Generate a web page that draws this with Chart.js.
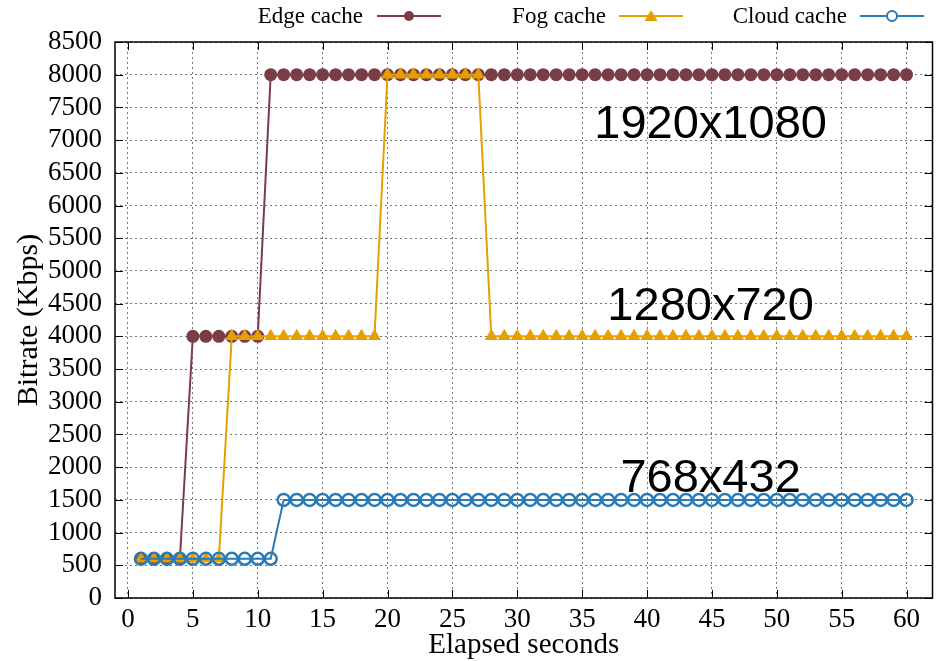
<!DOCTYPE html>
<html>
<head>
<meta charset="utf-8">
<title>Bitrate by cache location</title>
<script src="https://cdn.jsdelivr.net/npm/chart.js@4/dist/chart.umd.min.js"></script>
<style>
  html, body { margin: 0; padding: 0; background: #fff; }
  #wrap { width: 941px; height: 661px; }
</style>
</head>
<body>
<div id="wrap"><canvas id="chart" width="941" height="661"></canvas></div>
<script>
const seconds = [1, 2, 3, 4, 5, 6, 7, 8, 9, 10,
    11, 12, 13, 14, 15, 16, 17, 18, 19, 20,
    21, 22, 23, 24, 25, 26, 27, 28, 29, 30,
    31, 32, 33, 34, 35, 36, 37, 38, 39, 40,
    41, 42, 43, 44, 45, 46, 47, 48, 49, 50,
    51, 52, 53, 54, 55, 56, 57, 58, 59, 60];

const edgeCache = [600, 600, 600, 600, 4000, 4000, 4000, 4000, 4000, 4000,
    8000, 8000, 8000, 8000, 8000, 8000, 8000, 8000, 8000, 8000,
    8000, 8000, 8000, 8000, 8000, 8000, 8000, 8000, 8000, 8000,
    8000, 8000, 8000, 8000, 8000, 8000, 8000, 8000, 8000, 8000,
    8000, 8000, 8000, 8000, 8000, 8000, 8000, 8000, 8000, 8000,
    8000, 8000, 8000, 8000, 8000, 8000, 8000, 8000, 8000, 8000];

const fogCache = [600, 600, 600, 600, 600, 600, 600, 4000, 4000, 4000,
    4000, 4000, 4000, 4000, 4000, 4000, 4000, 4000, 4000, 8000,
    8000, 8000, 8000, 8000, 8000, 8000, 8000, 4000, 4000, 4000,
    4000, 4000, 4000, 4000, 4000, 4000, 4000, 4000, 4000, 4000,
    4000, 4000, 4000, 4000, 4000, 4000, 4000, 4000, 4000, 4000,
    4000, 4000, 4000, 4000, 4000, 4000, 4000, 4000, 4000, 4000];

const cloudCache = [600, 600, 600, 600, 600, 600, 600, 600, 600, 600,
    600, 1500, 1500, 1500, 1500, 1500, 1500, 1500, 1500, 1500,
    1500, 1500, 1500, 1500, 1500, 1500, 1500, 1500, 1500, 1500,
    1500, 1500, 1500, 1500, 1500, 1500, 1500, 1500, 1500, 1500,
    1500, 1500, 1500, 1500, 1500, 1500, 1500, 1500, 1500, 1500,
    1500, 1500, 1500, 1500, 1500, 1500, 1500, 1500, 1500, 1500];

const xTicks = [0, 5, 10, 15, 20, 25, 30, 35, 40, 45, 50, 55, 60];
const yTicks = [0, 500, 1000, 1500, 2000, 2500, 3000, 3500, 4000,
    4500, 5000, 5500, 6000, 6500, 7000, 7500, 8000, 8500];

// resolution labels, placed in data units
const resolutions = [
    { text: '1920x1080', x: 44.9, y: 7030 },
    { text: '1280x720', x: 44.9, y: 4250 },
    { text: '768x432', x: 44.9, y: 1620 }
];

const EDGE = '#7a3d45';
const FOG = '#e69f00';
const CLOUD = '#2a7ab6';
const serif = '"Liberation Serif", "Times New Roman", serif';

const toPoints = values => seconds.map((s, i) => ({ x: s, y: values[i] }));

// frame, inward ticks, legend and resolution labels
const decorations = {
    id: 'decorations',
    afterDatasetsDraw(chart) {
        const { ctx, chartArea: a, scales: { x, y } } = chart;
        ctx.save();

        ctx.fillStyle = '#000';
        ctx.font = '47px "Liberation Sans", Arial, sans-serif';
        ctx.textAlign = 'center';
        ctx.textBaseline = 'alphabetic';
        resolutions.forEach(r => {
            ctx.fillText(r.text, x.getPixelForValue(r.x), y.getPixelForValue(r.y));
        });

        ctx.strokeStyle = '#000';
        ctx.lineWidth = 1;
        ctx.beginPath();
        xTicks.forEach(v => {
            const px = Math.round(x.getPixelForValue(v)) + 0.5;
            ctx.moveTo(px, a.bottom); ctx.lineTo(px, a.bottom - 8);
            ctx.moveTo(px, a.top); ctx.lineTo(px, a.top + 8);
        });
        yTicks.forEach(v => {
            const py = Math.round(y.getPixelForValue(v)) + 0.5;
            ctx.moveTo(a.left, py); ctx.lineTo(a.left + 8, py);
            ctx.moveTo(a.right, py); ctx.lineTo(a.right - 8, py);
        });
        ctx.stroke();

        ctx.lineWidth = 1.5;
        ctx.strokeRect(a.left, a.top, a.right - a.left, a.bottom - a.top);

        // legend: label text, then a line sample with its marker
        const ly = 16;
        const items = [
            { label: 'Edge cache', color: EDGE, textRight: 363, x0: 377, x1: 441, shape: 'dot' },
            { label: 'Fog cache', color: FOG, textRight: 606, x0: 619, x1: 683, shape: 'tri' },
            { label: 'Cloud cache', color: CLOUD, textRight: 847, x0: 860, x1: 924, shape: 'ring' }
        ];
        ctx.font = '23px ' + serif;
        ctx.textAlign = 'right';
        ctx.textBaseline = 'middle';
        items.forEach(it => {
            ctx.fillStyle = '#000';
            ctx.fillText(it.label, it.textRight, ly + 1);
            ctx.strokeStyle = it.color;
            ctx.lineWidth = 2;
            ctx.beginPath();
            ctx.moveTo(it.x0, ly); ctx.lineTo(it.x1, ly);
            ctx.stroke();
            const cx = (it.x0 + it.x1) / 2;
            ctx.fillStyle = it.color;
            ctx.beginPath();
            if (it.shape === 'dot') {
                ctx.arc(cx, ly, 5, 0, Math.PI * 2);
                ctx.fill();
            } else if (it.shape === 'tri') {
                ctx.moveTo(cx, ly - 6); ctx.lineTo(cx + 6.5, ly + 5); ctx.lineTo(cx - 6.5, ly + 5);
                ctx.closePath();
                ctx.fill();
            } else {
                ctx.arc(cx, ly, 5, 0, Math.PI * 2);
                ctx.fillStyle = '#fff';
                ctx.fill();
                ctx.stroke();
            }
        });

        ctx.restore();
    }
};

new Chart(document.getElementById('chart'), {
    type: 'line',
    data: {
        datasets: [
            {
                label: 'Edge cache',
                data: toPoints(edgeCache),
                borderColor: EDGE,
                backgroundColor: EDGE,
                borderWidth: 2,
                pointStyle: 'circle',
                pointRadius: 6.5,
                pointBorderWidth: 0,
                order: 3
            },
            {
                label: 'Fog cache',
                data: toPoints(fogCache),
                borderColor: FOG,
                backgroundColor: FOG,
                borderWidth: 2,
                pointStyle: 'triangle',
                pointRadius: 7.5,
                pointBorderWidth: 0,
                order: 2
            },
            {
                label: 'Cloud cache',
                data: toPoints(cloudCache),
                borderColor: CLOUD,
                backgroundColor: 'rgba(255,255,255,0)',
                borderWidth: 2,
                pointStyle: 'circle',
                pointRadius: 6,
                pointBorderWidth: 2.5,
                order: 1
            }
        ]
    },
    options: {
        responsive: false,
        animation: false,
        events: [],
        layout: { padding: { top: 42, right: 2, left: 0, bottom: 0 } },
        plugins: {
            legend: { display: false },
            tooltip: { enabled: false }
        },
        elements: { line: { tension: 0 } },
        scales: {
            x: {
                type: 'linear',
                min: -1,
                max: 62,
                afterBuildTicks: scale => { scale.ticks = xTicks.map(v => ({ value: v })); },
                afterFit: scale => { scale.height = 63; },
                grid: { color: '#777', lineWidth: 1, drawTicks: false },
                border: { display: false, dash: [2, 3] },
                ticks: {
                    color: '#000', padding: 6, maxRotation: 0, autoSkip: false,
                    callback: v => String(v),
                    font: { family: serif, size: 27 }
                },
                title: {
                    display: true,
                    text: 'Elapsed seconds',
                    color: '#000',
                    padding: 0,
                    font: { family: serif, size: 29, lineHeight: 1.05 }
                }
            },
            y: {
                type: 'linear',
                min: 0,
                max: 8500,
                afterBuildTicks: scale => { scale.ticks = yTicks.map(v => ({ value: v })); },
                afterFit: scale => { scale.width = 115; },
                grid: { color: '#777', lineWidth: 1, drawTicks: false },
                border: { display: false, dash: [2, 3] },
                ticks: {
                    color: '#000', padding: 13, autoSkip: false,
                    callback: v => String(v),
                    font: { family: serif, size: 27 }
                },
                title: {
                    display: true,
                    text: 'Bitrate (Kbps)',
                    color: '#000',
                    padding: { top: 11, bottom: 0 },
                    font: { family: serif, size: 30 }
                }
            }
        }
    },
    plugins: [decorations]
});
</script>
</body>
</html>
